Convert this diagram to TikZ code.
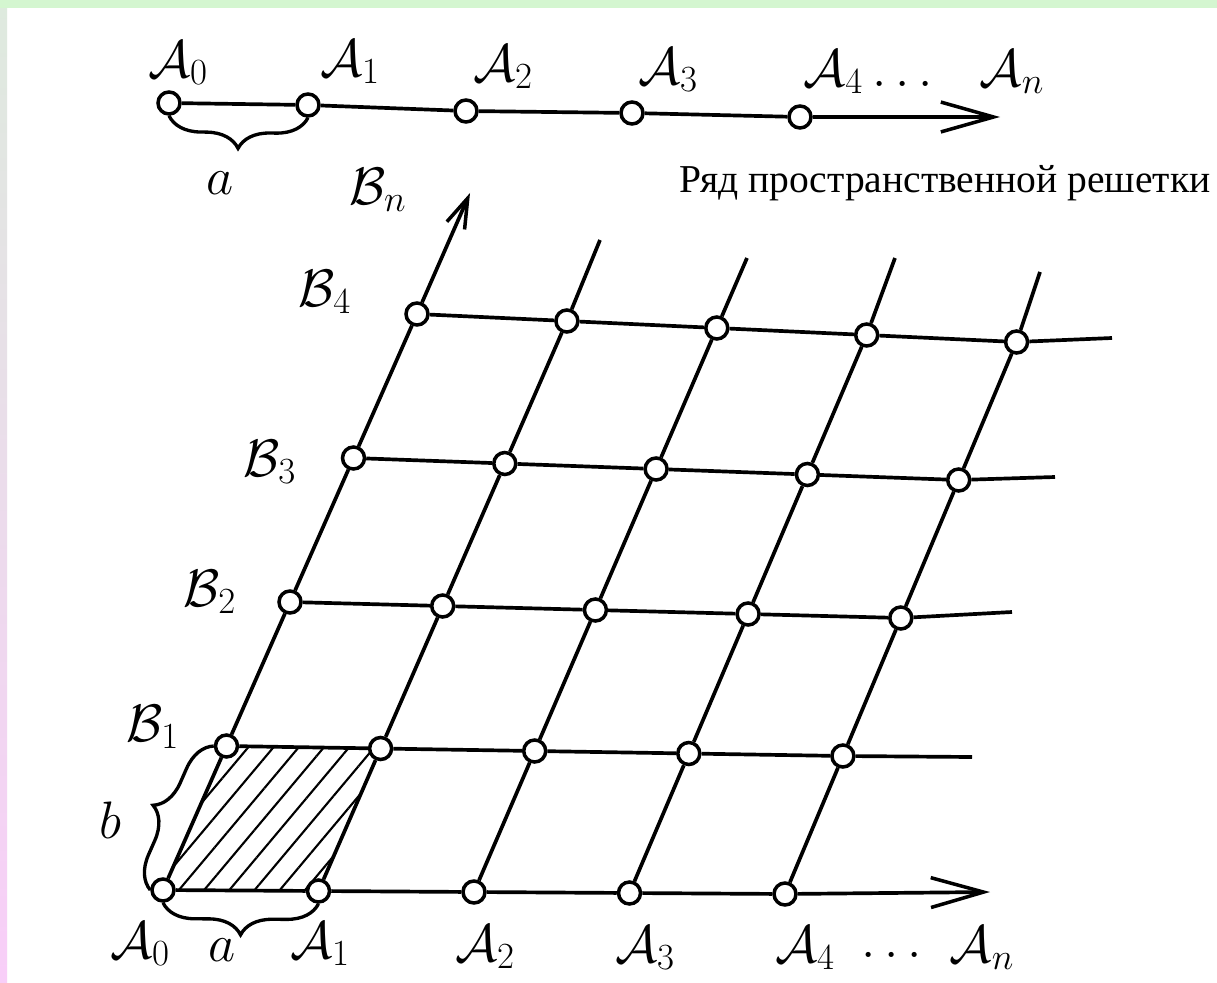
\documentclass[tikz,border=0pt]{standalone}
\usepackage{fix-cm}
\usepackage{fontspec}
\newfontfamily\rufont{Liberation Serif}
\usetikzlibrary{arrows.meta,patterns.meta,decorations.pathreplacing,backgrounds}
\definecolor{bandgreen}{RGB}{212,246,208}
\definecolor{bandtop}{RGB}{222,234,222}
\definecolor{bandbot}{RGB}{248,206,248}

\begin{document}
\begin{tikzpicture}[x=0.02cm, y=-0.02cm, line width=2.1pt]
    \tikzstyle{site} = [circle, draw, fill=white, line width=2pt, inner sep=0pt, minimum size=0.44cm]
    \tikzstyle{lbl} = [font=\fontsize{30}{34}\selectfont, inner sep=0pt]
    \tikzstyle{axis} = [-{Straight Barb[length=30pt,width=17pt,line width=2pt]}]
    \tikzstyle{curly} = [decorate, decoration={brace, amplitude=18pt}, line width=1.9pt]

    \useasboundingbox (0,0) rectangle (1217,983);
    \begin{scope}[on background layer]
        \fill[white] (0,0) rectangle (1217,983);
        \shade[top color=bandtop, bottom color=bandbot] (0,0) rectangle (7,983);
        \fill[bandgreen] (0,0) rectangle (1217,8);
    \end{scope}

    % one row of the lattice
    \foreach \k/\x/\y in {0/169/103, 1/308/105, 2/466/111, 3/632/113, 4/800/117}
        \node[site] (t\k) at (\x,\y) {};
    \coordinate (tend) at (1000,117);
    \draw[axis] (t0) -- (t1) -- (t2) -- (t3) -- (t4) -- (tend);
    \draw[curly] (t1.south) -- (t0.south);

    \node[lbl] (ta0) at (178,63) {$\mathcal{A}_0$};
    \node[lbl] (ta1) at (350,62) {$\mathcal{A}_1$};
    \node[lbl] (ta2) at (503,67) {$\mathcal{A}_2$};
    \node[lbl] (ta3) at (668,70) {$\mathcal{A}_3$};
    \node[lbl] (ta4) at (868,72) {$\mathcal{A}_4\ldots$};
    \node[lbl] (tan) at (1012,72) {$\mathcal{A}_n$};
    \node[lbl] (tla) at (220,183) {$a$};
    \node[font=\rufont\fontsize{22.5}{27}\selectfont, inner sep=0pt] (title) at (945,183) {Ряд пространственной решетки};

    % space lattice
    \foreach \i in {0,...,4}
        \foreach \j in {0,...,4}
            \node[site] (n-\i-\j) at ({163+(155.5-1.4*\j)*\i+63.5*\j},{890+(1+1.5*\j)*\i-144*\j}) {};

    \begin{scope}[on background layer]
        \fill[pattern={Lines[angle=50,distance=11pt,line width=1.2pt]}]
            (n-0-0.center) -- (n-1-0.center) -- (n-1-1.center) -- (n-0-1.center) -- cycle;
    \end{scope}

    % rows
    \coordinate (re0) at (990,892);
    \draw[axis] (n-0-0) -- (n-1-0) -- (n-2-0) -- (n-3-0) -- (n-4-0) -- (re0);
    \foreach \j/\ex/\ey in {1/972/757, 2/1012/612, 3/1055/477, 4/1112/338}{
        \coordinate (re\j) at (\ex,\ey);
        \draw (n-0-\j) -- (n-1-\j) -- (n-2-\j) -- (n-3-\j) -- (n-4-\j) -- (re\j);
    }
    % columns
    \coordinate (ce0) at (470,193);
    \draw[-{Straight Barb[length=17pt,width=11pt,line width=2pt]}] (n-0-0) -- (n-0-1) -- (n-0-2) -- (n-0-3) -- (n-0-4) -- (ce0);
    \foreach \i/\ex/\ey in {1/600/240, 2/747/258, 3/895/258, 4/1040/272}{
        \coordinate (ce\i) at (\ex,\ey);
        \draw (n-\i-0) -- (n-\i-1) -- (n-\i-2) -- (n-\i-3) -- (n-\i-4) -- (ce\i);
    }

    % cell edges
    \draw[curly] (n-1-0.south) -- (n-0-0.south);
    \draw[curly] (n-0-0.west) -- (n-0-1.west);

    \node[lbl] (lbn) at (378,190) {$\mathcal{B}_n$};
    \node[lbl] (lb4) at (325,292) {$\mathcal{B}_4$};
    \node[lbl] (lb3) at (270,462) {$\mathcal{B}_3$};
    \node[lbl] (lb2) at (210,592) {$\mathcal{B}_2$};
    \node[lbl] (lb1) at (153,727) {$\mathcal{B}_1$};
    \node[lbl] (lbb) at (110,820) {$b$};

    \node[lbl] (la0) at (140,944) {$\mathcal{A}_0$};
    \node[lbl] (laa) at (222,950) {$a$};
    \node[lbl] (la1) at (320,944) {$\mathcal{A}_1$};
    \node[lbl] (la2) at (485,947) {$\mathcal{A}_2$};
    \node[lbl] (la3) at (645,948) {$\mathcal{A}_3$};
    \node[lbl] (la4) at (805,948) {$\mathcal{A}_4$};
    \node[lbl] (ldots) at (892,955) {$\ldots$};
    \node[lbl] (lan) at (982,948) {$\mathcal{A}_n$};
\end{tikzpicture}
\end{document}
